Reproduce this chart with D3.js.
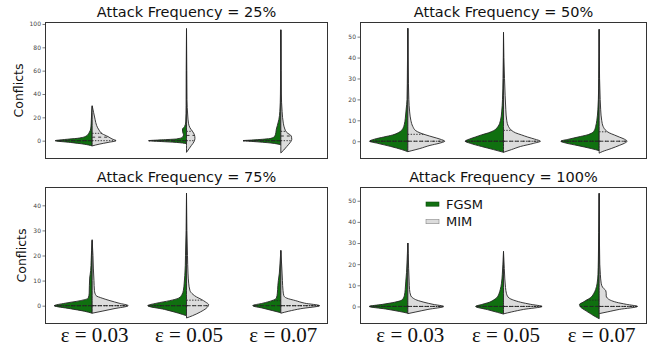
<!DOCTYPE html>
<html>
<head>
<meta charset="utf-8">
<script src="https://cdn.jsdelivr.net/npm/d3@7"></script>
<style>
body { margin: 0; background: #fff; }
svg { display: block; }
</style>
</head>
<body>
<script>
// panel titles, x categories, series
const titles = ['Attack Frequency = 25%', 'Attack Frequency = 50%', 'Attack Frequency = 75%', 'Attack Frequency = 100%']
const epsLabels = ['ε = 0.03', 'ε = 0.05', 'ε = 0.07']
const seriesNames = ['FGSM', 'MIM']
const yTicks = [[0, 20, 40, 60, 80, 100], [0, 10, 20, 30, 40, 50], [0, 10, 20, 30, 40], [0, 10, 20, 30, 40, 50]]
const yDomains = [[-15.7, 101.7], [-8.5, 57], [-7.3, 47.3], [-8.3, 56.5]]

// violin halves: [conflicts, density], one list per epsilon
const fgsm25 = [
  [[-4.5, 0], [-3, 8], [-1.5, 22], [0, 37], [1, 28], [2, 15], [4, 6], [7, 3], [10, 1.5], [15, 1], [22, 0.6], [29.5, 0]],
  [[-2.5, 0], [-1.5, 10], [-0.5, 30], [0, 38], [0.7, 25], [1.5, 10], [3, 4], [5, 3], [8, 4], [10, 4], [12, 2], [16, 0.8], [30, 0.4], [60, 0.3], [96, 0]],
  [[-3.5, 0], [-2, 10], [-0.7, 28], [0, 38], [0.7, 26], [2, 10], [4, 6], [7, 5], [10, 4.5], [13, 3.5], [18, 2], [25, 1], [40, 0.4], [95, 0]]
]
const mim25 = [
  [[-4.5, 0], [-3, 7], [-1.5, 16], [0, 24], [1.5, 20], [3.5, 16], [6, 10], [9, 7], [13, 4.5], [18, 3], [24, 1.5], [30, 0]],
  [[-10, 0], [-7, 2.5], [-4, 5], [-1, 7.5], [2, 8.5], [5, 8], [8, 6], [11, 3.5], [15, 2], [22, 1.2], [35, 0.5], [60, 0.3], [96, 0]],
  [[-10.5, 0], [-8, 3], [-5, 6], [-2, 9], [1, 11], [4, 10.5], [7, 6], [10, 4], [15, 2.5], [25, 1.3], [40, 0.5], [60, 0.3], [95, 0]]
]
const fgsm50 = [
  [[-5, 0], [-4, 6], [-2.5, 17], [-1, 30], [0, 38], [1, 33], [2, 24], [3, 15], [4.5, 8], [6, 5], [8, 3.5], [11, 2.5], [15, 1.7], [20, 0.8], [35, 0.4], [54, 0]],
  [[-5.3, 0], [-4, 10], [-2.5, 22], [-1, 33], [0, 38], [1, 34], [2, 28], [3, 22], [4, 15], [5, 10], [7, 5.5], [10, 3], [14, 1.8], [20, 1], [30, 0.5], [52, 0]],
  [[-4.5, 0], [-3.5, 8], [-2, 22], [-1, 32], [0, 38], [1, 30], [2, 21], [3, 12], [4, 7], [5, 5], [7, 3.5], [10, 2.3], [15, 1.3], [20, 0.8], [30, 0.4], [53.5, 0]]
]
const mim50 = [
  [[-5, 0], [-4.5, 4], [-3.5, 12], [-2, 22], [-1, 31], [0, 36.5], [1, 32], [2, 25], [3, 18], [4, 12], [5, 8], [7, 5], [10, 3], [14, 1.8], [20, 1], [35, 0.4], [54, 0]],
  [[-5.3, 0], [-4, 8], [-2.5, 17], [-1, 30], [0, 36.5], [1, 31], [2, 24], [3, 18], [4, 12], [5, 8.5], [7, 5], [10, 3.2], [15, 2.3], [22, 1.6], [30, 1], [40, 0.4], [52, 0]],
  [[-5.7, 0], [-5, 3], [-3.5, 12], [-2, 20], [-1, 25], [0, 27.7], [1, 25], [2, 20], [3, 15], [4, 10], [5, 7], [7, 4], [10, 2.5], [15, 1.5], [20, 1], [30, 0.4], [53.5, 0]]
]
const fgsm75 = [
  [[-3, 0], [-2.2, 8], [-1.2, 22], [0, 38], [1, 27], [2, 12], [3, 4], [5, 3], [8, 2.8], [11, 2.5], [14, 1.5], [18, 1], [22, 0.6], [26.3, 0]],
  [[-4, 0], [-3, 8], [-1.5, 22], [0, 39], [1, 30], [2, 17], [3, 8], [4.5, 4.5], [6, 3.2], [9, 2.3], [12, 1.7], [16, 1.2], [20, 1], [30, 0.4], [44.8, 0]],
  [[-2.8, 0], [-2, 8], [-1, 18], [0, 28.3], [1, 18], [2, 9], [3, 4.5], [5, 3.5], [8, 3], [10, 2.5], [13, 1.5], [17, 0.8], [22, 0]]
]
const mim75 = [
  [[-3, 0], [-2.2, 10], [-1.2, 22], [0, 36.3], [1, 27], [2, 18], [3, 10], [4, 4], [6, 2.3], [10, 1.8], [15, 1.2], [20, 0.8], [26, 0]],
  [[-4.9, 0], [-4, 6], [-2.5, 14], [-1, 20], [0.4, 22.3], [1.5, 19], [2.5, 15], [3.5, 10], [4.5, 6.5], [6, 3.5], [9, 2.2], [13, 1.5], [20, 1], [30, 0.4], [44.8, 0]],
  [[-3, 0], [-2.2, 8], [-1.2, 20], [0, 39], [1, 24], [2, 15], [3, 6], [4, 3], [6, 2.2], [10, 1.6], [15, 1], [22, 0]]
]
const fgsm100 = [
  [[-3.2, 0], [-2.4, 8], [-1.2, 22], [0, 38.3], [1, 25], [2, 13], [3, 6], [5, 3.5], [8, 2.6], [12, 2], [16, 1.3], [22, 0.7], [30, 0]],
  [[-3.6, 0], [-2.8, 6], [-1.5, 16], [0, 27.7], [1, 21], [2, 14], [3, 10], [4, 7], [6, 4.5], [8, 3.2], [11, 2], [15, 1.2], [20, 0.6], [26, 0]],
  [[-5.8, 0], [-4.5, 5], [-3, 10], [-1.5, 15], [0, 19], [1, 19.5], [2, 16], [3, 12.5], [4, 9], [6, 5.5], [8, 3.5], [11, 2], [15, 1.2], [22, 0.8], [35, 0.4], [53.5, 0]]
]
const mim100 = [
  [[-3.4, 0], [-2.6, 8], [-1.4, 20], [0, 35.7], [1, 25], [2, 16], [3, 9], [4, 5], [5, 3], [8, 1.7], [12, 1.3], [18, 0.8], [25, 0.4], [30, 0]],
  [[-3.5, 0], [-2.6, 8], [-1.4, 20], [0, 38.3], [1, 27], [2, 17], [3, 10], [4, 5.5], [6, 3], [9, 2], [13, 1.3], [18, 0.8], [26, 0]],
  [[-3.4, 0], [-2.6, 8], [-1.4, 20], [0, 38], [1, 27], [2, 17], [3, 11], [4, 8], [5, 7], [6, 7], [7.5, 6.5], [9, 3.5], [11, 2], [15, 1.2], [20, 0.6], [30, 0.3], [53.5, 0]]
]
// quartiles [q1, median, q3]
const qFgsm25 = [[0, 0, 0], [0, 0, 0], [0, 0, 0]]
const qMim25 = [[0, 3, 6.3], [0, 4.5, 8], [0, 4, 8]]
const qFgsm50 = [[0, 0, 0], [0, 0, 0], [0, 0, 0]]
const qMim50 = [[0, 0, 3.3], [0, 0, 5.2], [0, 0, 4.5]]
const qFgsm75 = [[0, 0, 0], [0, 0, 0], [0, 0, 2]]
const qMim75 = [[0, 0, 0], [0, 0, 2.2], [0, 0, 0]]
const qFgsm100 = [[0, 0, 0], [0, 0, 0], [0, 0, 3]]
const qMim100 = [[0, 0, 0], [0, 0, 0], [0, 0, 0]]

const panelData = [
  {fgsm: fgsm25, mim: mim25, qf: qFgsm25, qm: qMim25},
  {fgsm: fgsm50, mim: mim50, qf: qFgsm50, qm: qMim50},
  {fgsm: fgsm75, mim: mim75, qf: qFgsm75, qm: qMim75},
  {fgsm: fgsm100, mim: mim100, qf: qFgsm100, qm: qMim100}
]

const W = 657, H = 347
const colors = ['#107010', '#dcdcdc']
const edge = '#262626'
const boxes = [
  {x0: 45, x1: 328, y0: 22, y1: 159},
  {x0: 360, x1: 647, y0: 22, y1: 159},
  {x0: 45, x1: 328, y0: 187, y1: 324},
  {x0: 360, x1: 647, y0: 187, y1: 324}
]

var svg = d3.select('body').append('svg')
  .attr('width', W)
  .attr('height', H)
  .attr('viewBox', [0, 0, W, H])
  .style('font-family', 'DejaVu Sans, sans-serif')

boxes.forEach(function(b, p) {
  var pd = panelData[p]
  var g = svg.append('g')

  var x = d3.scaleBand().domain(epsLabels).range([b.x0, b.x1])
  var y = d3.scaleLinear().domain(yDomains[p]).range([b.y1, b.y0])
  var w = d3.scaleLinear().domain([0, 38]).range([0, x.bandwidth() * 0.4])

  epsLabels.forEach(function(eps, i) {
    var cx = x(eps) + x.bandwidth() / 2
    var halves = [{prof: pd.fgsm[i], q: pd.qf[i], side: -1, color: colors[0]},
                  {prof: pd.mim[i], q: pd.qm[i], side: 1, color: colors[1]}]
    halves.forEach(function(h) {
      var area = d3.area()
        .curve(d3.curveMonotoneY)
        .y(d => y(d[0]))
        .x0(cx)
        .x1(d => cx + h.side * w(d[1]))
      g.append('path')
        .attr('d', area(h.prof))
        .attr('fill', h.color)
        .attr('stroke', edge)
        .attr('stroke-width', 0.9)
        .attr('stroke-linejoin', 'round')
    })
    halves.forEach(function(h) {
      var dens = d3.scaleLinear().domain(h.prof.map(d => d[0])).range(h.prof.map(d => d[1]))
      h.q.forEach(function(qv, k) {
        g.append('line')
          .attr('x1', cx)
          .attr('x2', cx + h.side * w(dens(qv)))
          .attr('y1', y(qv))
          .attr('y2', y(qv))
          .attr('stroke', edge)
          .attr('stroke-width', 0.9)
          .attr('stroke-dasharray', k == 1 ? '3,3' : '1.4,1.4')
      })
    })
  })

  // frame
  g.append('rect')
    .attr('x', b.x0 + 0.5)
    .attr('y', b.y0 + 0.5)
    .attr('width', b.x1 - b.x0 - 1)
    .attr('height', b.y1 - b.y0 - 1)
    .attr('fill', 'none')
    .attr('stroke', '#333')
    .attr('stroke-width', 1)

  var ax = g.append('g')
    .attr('transform', 'translate(' + b.x0 + ',0)')
    .call(d3.axisLeft(y).tickValues(yTicks[p]).tickSize(2.5).tickPadding(1.5).tickFormat(d3.format('d')))
  ax.select('.domain').remove()
  ax.selectAll('text').style('font-size', '6px').style('font-family', 'DejaVu Sans').style('fill', '#444')
  ax.selectAll('line').style('stroke', '#444').attr('stroke-width', 0.7)

  g.append('text')
    .attr('x', (b.x0 + b.x1) / 2)
    .attr('y', b.y0 - 4.7)
    .attr('text-anchor', 'middle')
    .style('font-size', '14.5px')
    .attr('fill', '#111')
    .text(titles[p])

  if (p % 2 == 0) {
    var lx = p == 0 ? 22.8 : 25.5
    g.append('text')
      .attr('transform', 'translate(' + lx + ',' + ((b.y0 + b.y1) / 2) + ') rotate(-90)')
      .attr('text-anchor', 'middle')
      .style('font-size', '12.5px')
      .attr('fill', '#111')
      .text('Conflicts')
  }

  if (p >= 2) {
    g.selectAll('.xlab')
      .data(epsLabels)
      .enter()
      .append('text')
      .attr('class', 'xlab')
      .attr('x', d => x(d) + x.bandwidth() / 2 + 2.5)
      .attr('y', 341.7)
      .attr('text-anchor', 'middle')
      .style('font-family', 'Liberation Serif, Times New Roman, serif')
      .style('font-size', '21px')
      .attr('fill', '#111')
      .text(d => d)
  }
})

// legend in the last panel
var leg = svg.append('g').attr('transform', 'translate(426,202)')
seriesNames.forEach(function(s, i) {
  leg.append('rect')
    .attr('x', 0)
    .attr('y', i * 17.5)
    .attr('width', 13)
    .attr('height', 4.2)
    .attr('fill', colors[i])
    .attr('stroke', i == 0 ? '#0a4a0a' : '#888')
    .attr('stroke-width', 0.6)
  leg.append('text')
    .attr('x', 20)
    .attr('y', i * 17.5 + 6.5)
    .style('font-size', '13px')
    .attr('fill', '#111')
    .text(s)
})
</script>
</body>
</html>
